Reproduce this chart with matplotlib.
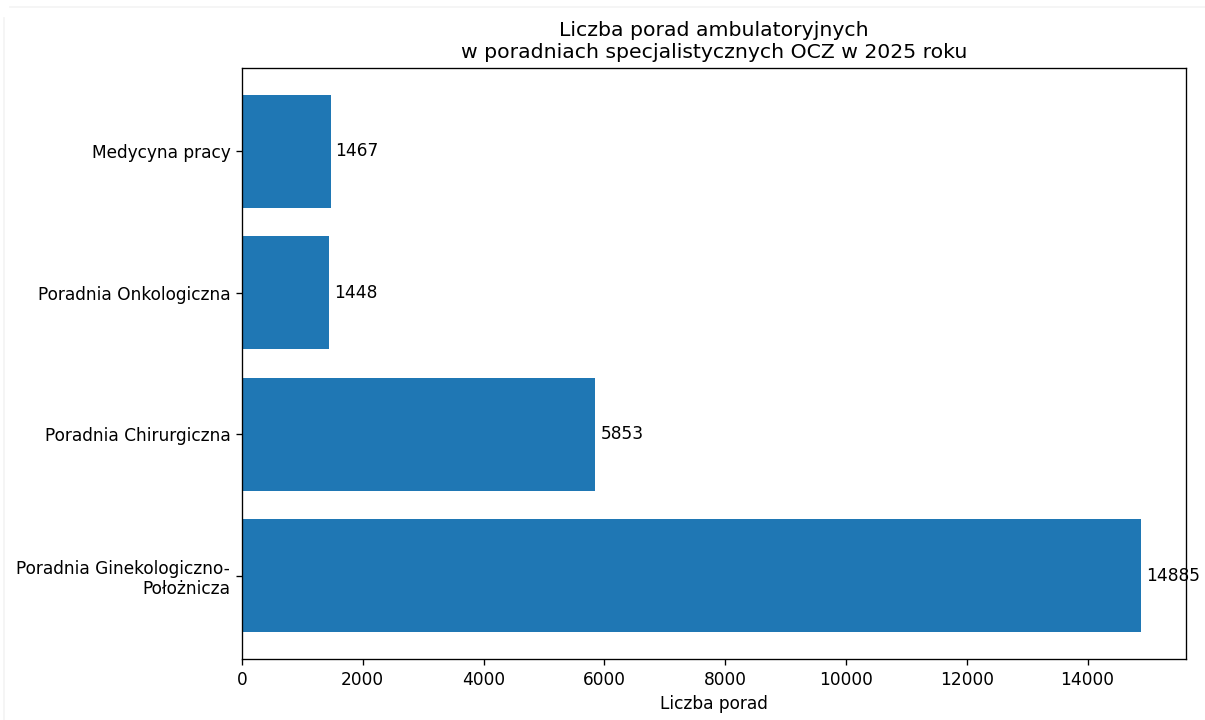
import matplotlib
matplotlib.use("Agg")
import matplotlib.pyplot as plt
from matplotlib.lines import Line2D

# Dane
poradnie = ["Poradnia Ginekologiczno-\nPołożnicza", "Poradnia Chirurgiczna",
            "Poradnia Onkologiczna", "Medycyna pracy"]
liczba_porad = [14885, 5853, 1448, 1467]

plt.rcParams["font.size"] = 10.2

fig, ax = plt.subplots(figsize=(1205 / 120, 6), dpi=120)
fig.subplots_adjust(left=0.2008, right=0.9842, top=0.9056, bottom=0.0847)

bars = ax.barh(poradnie, liczba_porad, color="#1f77b4")
ax.bar_label(bars, padding=3)

ax.set_xlabel("Liczba porad")
ax.set_title("Liczba porad ambulatoryjnych\nw poradniach specjalistycznych OCZ w 2025 roku")

# faint edges (top and left) like in the screenshot
W, H = 1205, 720
fig.add_artist(Line2D([10 / W, 1], [1 - 7 / H, 1 - 7 / H], transform=fig.transFigure,
                      color="#f3f3f3", linewidth=1))
fig.add_artist(Line2D([4 / W, 4 / W], [0, 1 - 18 / H], transform=fig.transFigure,
                      color="#f3f3f3", linewidth=1))

fig.savefig("out.png", dpi=120)
